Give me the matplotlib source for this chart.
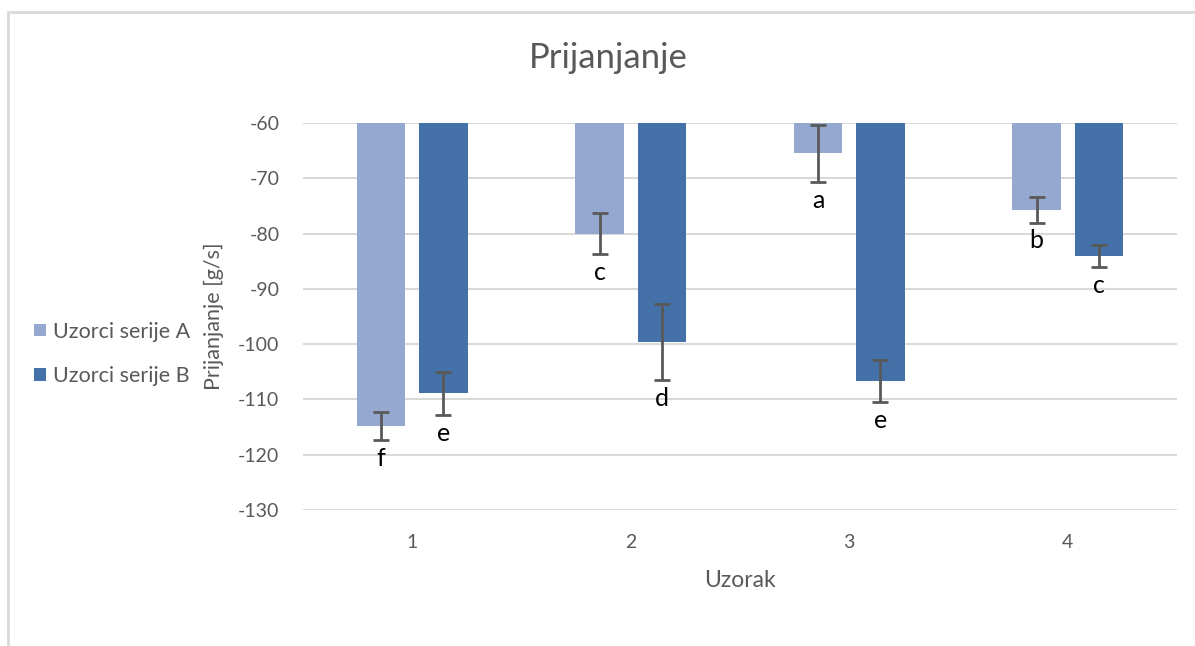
import numpy as np
import matplotlib
matplotlib.use("Agg")
import matplotlib.pyplot as plt
from matplotlib.patches import Rectangle

plt.rcParams['font.family'] = ['Lato', 'DejaVu Sans']

# data
samples = ['1', '2', '3', '4']
series_a = [-114.8, -80.0, -65.5, -75.7]
series_b = [-108.9, -99.6, -106.7, -84.0]
err_a = [2.6, 3.75, 5.1, 2.3]
err_b = [3.9, 6.85, 3.8, 2.0]
letters_a = ['f', 'c', 'a', 'b']
letters_b = ['e', 'd', 'e', 'c']
yticks = [-60, -70, -80, -90, -100, -110, -120, -130]

base = -60
grey = '#595959'
col_a = '#95A9D0'
col_b = '#4472A8'

fig = plt.figure(figsize=(11.95, 6.46), dpi=100)
ax = fig.add_axes([303/1195, 1-510/646, 874/1195, 387/646])

x = np.arange(len(samples))
w = 0.224
off = 0.143

bars_a = ax.bar(x - off, np.array(series_a) - base, w, bottom=base, color=col_a,
                label='Uzorci serije A', zorder=2)
bars_b = ax.bar(x + off, np.array(series_b) - base, w, bottom=base, color=col_b,
                label='Uzorci serije B', zorder=2)
ax.errorbar(x - off, series_a, yerr=err_a, fmt='none', ecolor=grey,
            elinewidth=2, capsize=6, capthick=2, zorder=3)
ax.errorbar(x + off, series_b, yerr=err_b, fmt='none', ecolor=grey,
            elinewidth=2, capsize=6, capthick=2, zorder=3)

for xi, v, e, t in zip(x - off, series_a, err_a, letters_a):
    ax.annotate(t, (xi, v - e), xytext=(0, -5), textcoords='offset points',
                ha='center', va='top', fontsize=18, color='black')
for xi, v, e, t in zip(x + off, series_b, err_b, letters_b):
    ax.annotate(t, (xi, v - e), xytext=(0, -5), textcoords='offset points',
                ha='center', va='top', fontsize=18, color='black')

ax.set_xlim(-0.5, len(samples) - 0.5)
ax.set_ylim(-130, -60)
ax.set_yticks(yticks)
ax.set_yticklabels([str(t) for t in yticks])
ax.set_xticks(x)
ax.set_xticklabels(samples)
ax.yaxis.grid(True, color='#D9D9D9', linewidth=1.5, zorder=0)
ax.set_axisbelow(True)
for s in ax.spines.values():
    s.set_visible(False)
ax.tick_params(axis='both', length=0, labelsize=14, colors=grey)
ax.tick_params(axis='y', pad=17)
ax.tick_params(axis='x', pad=17)

ax.set_xlabel('Uzorak', fontsize=16.5, color=grey, labelpad=14)
ax.set_ylabel('Prijanjanje [g/s]', fontsize=15.5, color=grey, labelpad=10)
fig.text(608/1195, 1-58/646, 'Prijanjanje', fontsize=25, color=grey,
         ha='center', va='center')

fig.legend(handles=[bars_a, bars_b], loc='center left',
           bbox_to_anchor=(15/1195, 1-354/646), frameon=False, fontsize=15.5,
           labelcolor=grey, handlelength=0.55, handleheight=0.55,
           handletextpad=0.3, labelspacing=1.15)

# chart area frame (cropped on the right and bottom)
fig.patches.append(Rectangle((8/1195, -0.1), 1.2, 1.1 - 12/646,
                             transform=fig.transFigure, fill=False,
                             edgecolor='#D9D9D9', linewidth=2))

fig.savefig('out.png', dpi=100)
